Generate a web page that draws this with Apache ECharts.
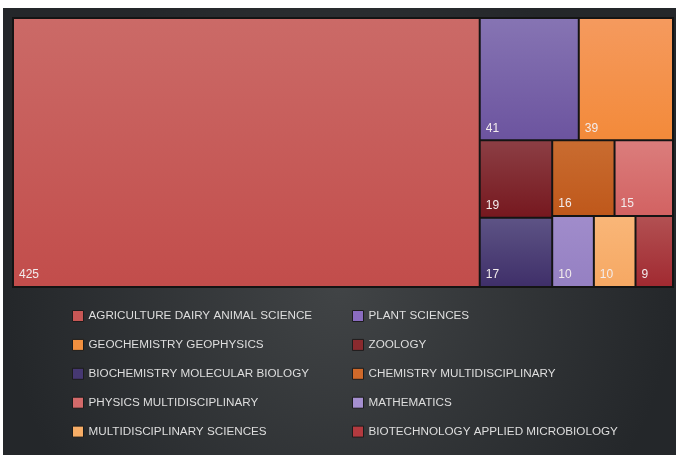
<!DOCTYPE html>
<html>
<head>
<meta charset="utf-8">
<script src="https://cdn.jsdelivr.net/npm/echarts@6/dist/echarts.min.js"></script>
<style>
html,body{margin:0;padding:0;background:#fff;}
#wrap{position:relative;width:676px;height:455px;background:#fff;overflow:hidden;}
#chart{position:absolute;left:3px;top:8px;width:673px;height:447px;}
</style>
</head>
<body>
<div id="wrap"><div id="chart"></div></div>
<script>
// ---- data ----
var categories = [
  'AGRICULTURE DAIRY ANIMAL SCIENCE',
  'PLANT SCIENCES',
  'GEOCHEMISTRY GEOPHYSICS',
  'ZOOLOGY',
  'BIOCHEMISTRY MOLECULAR BIOLOGY',
  'CHEMISTRY MULTIDISCIPLINARY',
  'PHYSICS MULTIDISCIPLINARY',
  'MULTIDISCIPLINARY SCIENCES',
  'MATHEMATICS',
  'BIOTECHNOLOGY APPLIED MICROBIOLOGY'
];
var values = [425, 41, 39, 19, 17, 16, 15, 10, 10, 9];
var legendCol1 = [0, 2, 4, 6, 7];
var legendCol2 = [1, 3, 5, 8, 9];

// ---- styles ----
var topColors = ['#cb6a67', '#8674b3', '#f59a5e', '#8c3e44', '#5d5385', '#c96c30', '#db7d7c', '#f9b678', '#a08ccb', '#b25052'];
var bottomColors = ['#c24d4b', '#6c549f', '#f38a3a', '#76181f', '#3f2f69', '#bf581b', '#d26262', '#f6a863', '#9580c2', '#a12a31'];
var legendColors = ['#c75755', '#8a6cc0', '#f2903f', '#8a2a2e', '#463872', '#d0692a', '#d46a6a', '#f7ad66', '#a58fd0', '#b33a3f'];

var chart = echarts.init(document.getElementById('chart'), null, {renderer: 'canvas'});

var treeData = categories.map(function (name, i) {
  return {
    name: name,
    value: values[i],
    itemStyle: {
      color: {
        type: 'linear', x: 0, y: 0, x2: 0, y2: 1,
        colorStops: [{offset: 0, color: topColors[i]}, {offset: 1, color: bottomColors[i]}]
      }
    }
  };
});

var FONT = '"Liberation Sans", "DejaVu Sans", sans-serif';

function legendFor(idxs, left) {
  return {
    orient: 'vertical',
    left: left,
    top: 302,
    padding: 0,
    itemWidth: 11,
    itemHeight: 11,
    itemGap: 16.9,
    icon: 'rect',
    selectedMode: false,
    textStyle: {color: '#dedede', fontSize: 11.7, fontFamily: FONT},
    data: idxs.map(function (i) {
      return {name: categories[i], itemStyle: {color: legendColors[i], borderColor: '#1c1c1c', borderWidth: 1}};
    })
  };
}

var option = {
  backgroundColor: {
    type: 'radial', x: 0.5, y: 0.62, r: 0.75,
    colorStops: [{offset: 0, color: '#414446'}, {offset: 1, color: '#24272a'}]
  },
  animation: false,
  legend: [legendFor(legendCol1, 69), legendFor(legendCol2, 349)],
  series: [
    {
      type: 'treemap',
      left: 9,
      top: 9,
      width: 662,
      height: 271,
      roam: false,
      nodeClick: false,
      breadcrumb: {show: false},
      squareRatio: 1,
      label: {
        show: true,
        position: 'insideBottomLeft',
        distance: 0,
        padding: [0, 0, 5, 5],
        formatter: '{c}',
        color: '#f3ecec',
        fontSize: 12,
        fontFamily: FONT
      },
      upperLabel: {show: false},
      levels: [
        {itemStyle: {borderColor: '#141414', borderWidth: 2, gapWidth: 2}},
        {itemStyle: {borderColor: '#141414', borderWidth: 0, gapWidth: 0}}
      ],
      data: treeData
    },
    {
      type: 'pie',
      radius: [0, 0],
      center: [-100, -100],
      silent: true,
      label: {show: false},
      labelLine: {show: false},
      data: categories.map(function (name, i) {
        return {name: name, value: values[i], itemStyle: {color: legendColors[i]}};
      })
    }
  ]
};
chart.setOption(option);
</script>
</body>
</html>
